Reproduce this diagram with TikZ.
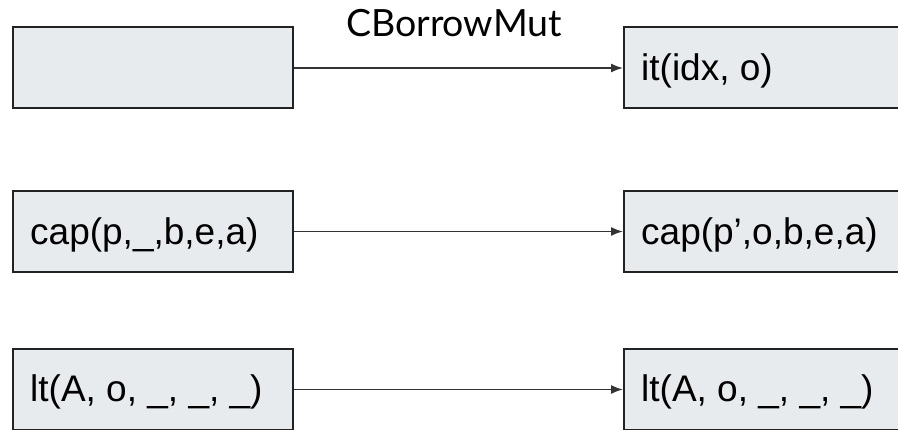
\documentclass[tikz,border=0pt]{standalone}
\usepackage{fontspec}
\setmainfont{Liberation Sans}
\newfontfamily\latofont{Lato}
\usetikzlibrary{arrows.meta}
\definecolor{boxfill}{RGB}{232,235,237}
\definecolor{boxline}{RGB}{34,34,34}
\definecolor{arrline}{RGB}{51,51,51}
\begin{document}
\begin{tikzpicture}[x=1pt,y=-1pt,
  box/.style={draw=boxline, line width=2pt, fill=boxfill, rectangle, minimum width=280pt, minimum height=81pt, inner sep=0pt},
  txt/.style={anchor=base west, font=\fontsize{37}{42}\selectfont, inner sep=0pt, text=black},
  conn/.style={draw=arrline, line width=1.6pt, -{Latex[length=12pt,width=9pt]}},
  lbl/.style={anchor=base, font=\latofont\fontsize{37.5}{42}\selectfont, inner sep=0pt, text=black}]
\useasboundingbox (0,0) rectangle (898,430);
\clip (0,0) rectangle (898,430);
% boxes
\node[box] (a1) at (153,68) {};
\node[box] (b1) at (764,68) {};
\node[box] (a2) at (153,231.5) {};
\node[box] (b2) at (764,231.5) {};
\node[box] (a3) at (153,389.5) {};
\node[box] (b3) at (764,389.5) {};
% texts
\node[txt] (tb1) at ([xshift=18pt,yshift=-13pt]b1.west) {it(idx, o)};
\node[txt] (ta2) at ([xshift=18pt,yshift=-13pt]a2.west) {cap(p,\_,b,e,a)};
\node[txt] (tb2) at ([xshift=18pt,yshift=-13pt]b2.west) {cap(p’,o,b,e,a)};
\node[txt] (ta3) at ([xshift=18pt,yshift=-12pt]a3.west) {lt(A, o, \_, \_, \_)};
\node[txt] (tb3) at ([xshift=18pt,yshift=-12pt]b3.west) {lt(A, o, \_, \_, \_)};
% connectors
\draw[conn] (a1.east) -- (b1.west);
\draw[conn] (a2.east) -- (b2.west);
\draw[conn] (a3.east) -- (b3.west);
\node[lbl] (lab) at (454,37) {CBorrowMut};
\end{tikzpicture}
\end{document}
